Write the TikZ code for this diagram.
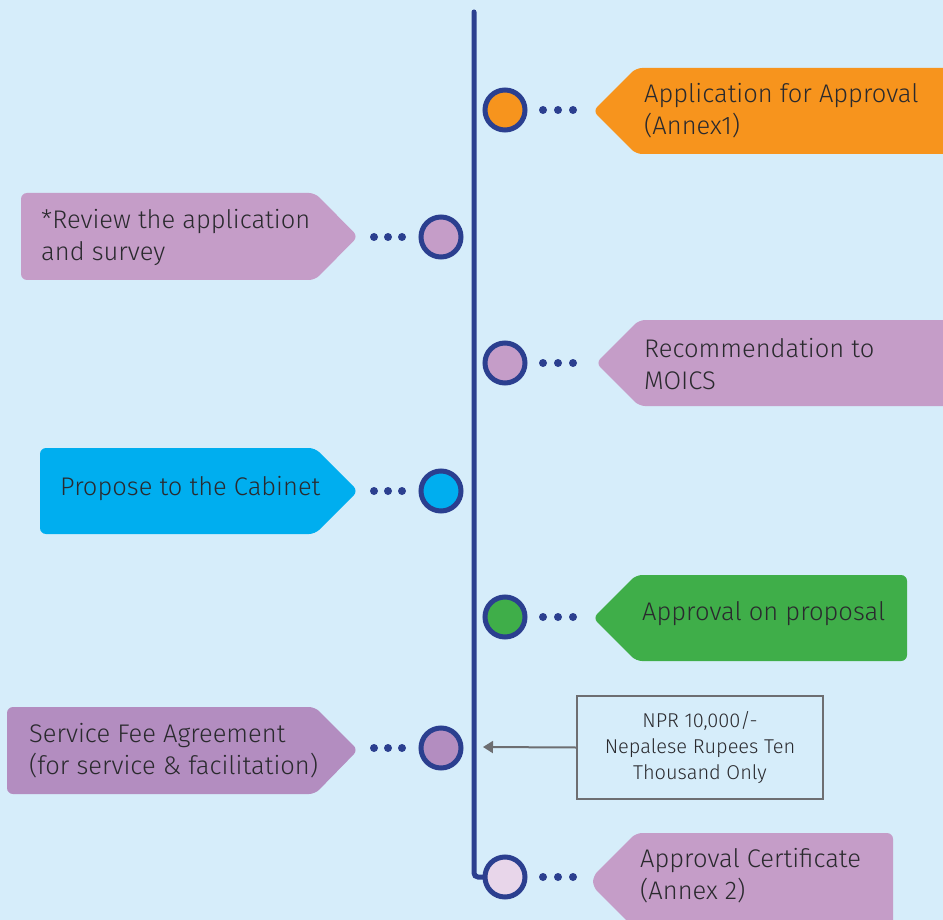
\documentclass[tikz,border=0pt]{standalone}
\usepackage{fontspec}
\setmainfont{Fira Sans}[UprightFont={* Light}]
\usetikzlibrary{arrows.meta}
\definecolor{bg}{HTML}{D6EDFA}
\definecolor{navy}{HTML}{2B3F8F}
\definecolor{orng}{HTML}{F7941D}
\definecolor{lilac}{HTML}{C59DC8}
\definecolor{purp}{HTML}{B38DC0}
\definecolor{cyanb}{HTML}{00AEEF}
\definecolor{grn}{HTML}{3FAE49}
\definecolor{pale}{HTML}{E8D6EA}
\definecolor{txt}{HTML}{2A2A2E}
\definecolor{gry}{HTML}{6D6E71}
\tikzset{
  lbl/.style={text=txt, anchor=west, align=left, inner sep=0pt, font=\fontsize{25.5}{32}\selectfont},
  small/.style={text=txt, align=center, inner sep=0pt, font=\fontsize{20}{26}\selectfont},
  stepdot/.style={circle, draw=navy, line width=5pt, minimum size=40pt, inner sep=0pt},
  tag/.style={rounded corners=6pt},
  dotfill/.style={fill=navy}
}
\begin{document}
\begin{tikzpicture}[x=1pt,y=-1pt]
\useasboundingbox (0,0) rectangle (943,920);
\clip (0,0) rectangle (943,920);
\fill[bg] (0,0) rectangle (943,920);
% timeline
\draw[navy, line width=5pt, line cap=round, rounded corners=4pt] (474,12) -- (474,877) -- (490,877);
% right tags
\fill[orng, tag] (593,111) -- (636,68) -- (960,68) -- (960,154) -- (636,154) -- cycle;
\fill[lilac, tag] (596,363) -- (639,320) -- (960,320) -- (960,406) -- (639,406) -- cycle;
\fill[grn, tag] (593,618) -- (636,575) -- (907,575) -- (907,661) -- (636,661) -- cycle;
\fill[lilac, tag] (593,876) -- (636,833) -- (893,833) -- (893,930) -- (636,930) -- (593,887) -- cycle;
% left tags
\fill[lilac, tag] (21,193) -- (315,193) -- (358,236.5) -- (315,280) -- (21,280) -- cycle;
\fill[cyanb, tag] (40,448) -- (315,448) -- (358,491) -- (315,534) -- (40,534) -- cycle;
\fill[purp, tag] (7,707) -- (315,707) -- (358,750) -- (315,794) -- (7,794) -- cycle;
% circles
\node[stepdot, fill=orng] (c1) at (505,110) {};
\node[stepdot, fill=lilac] (c2) at (441,237) {};
\node[stepdot, fill=lilac] (c3) at (505,363) {};
\node[stepdot, fill=cyanb] (c4) at (441,491) {};
\node[stepdot, fill=grn] (c5) at (505,617) {};
\node[stepdot, fill=purp] (c6) at (441,748) {};
\node[stepdot, fill=pale] (c7) at (505,877) {};
% dots
\foreach \y in {110,363,617,877}{\foreach \x in {543,558,573}{\fill[dotfill] (\x,\y) circle (4pt);}}
\foreach \y in {237,491,748}{\foreach \x in {374,388,402}{\fill[dotfill] (\x,\y) circle (4pt);}}
% labels
\node[lbl] (t1) at (644,111) {Application for Approval\\(Annex1)};
\node[lbl] (t2) at (41,238) {*Review the application\\and survey};
\node[lbl] (t3) at (644,364) {Recommendation to\\MOICS};
\node[lbl] (t4) at (60,489) {Propose to the Cabinet};
\node[lbl] (t5) at (642,614) {Approval on proposal};
\node[lbl] (t6) at (29,751) {Service Fee Agreement\\(for service \& facilitation)};
\node[lbl] (t7) at (640,876) {Approval Certificate\\(Annex 2)};
% NPR box
\node[small, draw=gry, line width=2pt, minimum width=246pt, minimum height=103pt] (npr) at (700,747.5) {NPR 10,000/-\\Nepalese Rupees Ten\\Thousand Only};
\coordinate (arr) at (483,747);
\draw[gry, line width=2pt, -{Triangle[length=10pt,width=12pt]}] (npr.west) -- (arr);
\end{tikzpicture}
\end{document}
